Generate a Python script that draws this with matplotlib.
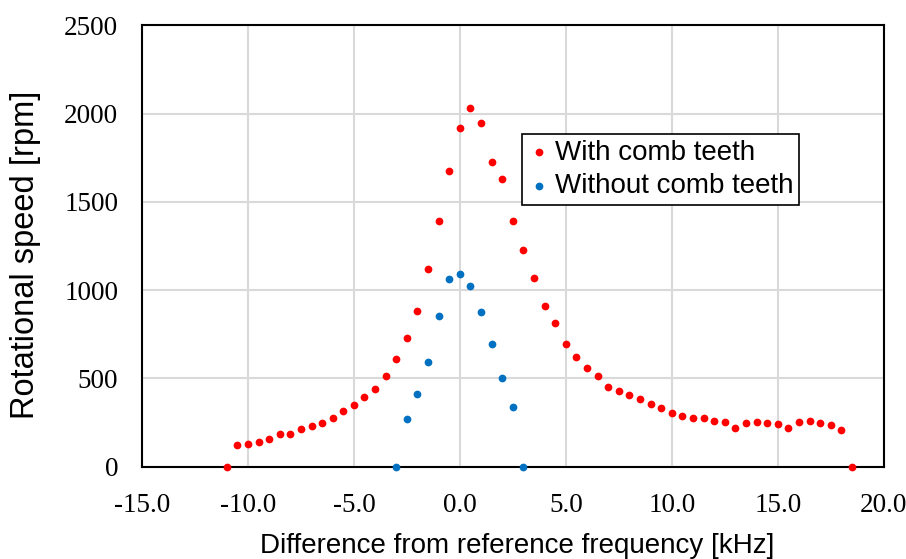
import numpy as np
import matplotlib.pyplot as plt

# with comb teeth
freq_with = [-11.0, -10.5, -10.0, -9.5, -9.0, -8.5, -8.0, -7.5, -7.0, -6.5, -6.0, -5.5,
             -5.0, -4.5, -4.0, -3.5, -3.0, -2.5, -2.0, -1.5, -1.0, -0.5, 0.0, 0.5,
             1.0, 1.5, 2.0, 2.5, 3.0, 3.5, 4.0, 4.5, 5.0, 5.5, 6.0, 6.5,
             7.0, 7.5, 8.0, 8.5, 9.0, 9.5, 10.0, 10.5, 11.0, 11.5, 12.0, 12.5,
             13.0, 13.5, 14.0, 14.5, 15.0, 15.5, 16.0, 16.5, 17.0, 17.5, 18.0, 18.5]
rpm_with = [0, 121, 127, 142, 159, 185, 185, 211, 232, 245, 276, 313,
            349, 393, 440, 512, 610, 727, 880, 1122, 1390, 1673, 1921, 2034,
            1949, 1728, 1630, 1390, 1228, 1067, 912, 814, 693, 621, 559, 514,
            451, 427, 404, 381, 355, 332, 304, 285, 276, 274, 261, 255,
            217, 248, 253, 246, 240, 221, 255, 261, 249, 236, 210, 0]

# without comb teeth
freq_without = [-3.0, -2.5, -2.0, -1.5, -1.0, -0.5, 0.0, 0.5, 1.0, 1.5, 2.0, 2.5, 3.0]
rpm_without = [0, 268, 414, 593, 856, 1061, 1090, 1024, 874, 693, 500, 340, 0]

xticks = np.arange(-15, 20.1, 5)
yticks = np.arange(0, 2501, 500)

fig = plt.figure(figsize=(9.06, 5.59), dpi=100)
ax = fig.add_axes([0.1567, 0.1651, 0.8187, 0.7893])

ax.scatter(freq_with, rpm_with, s=31, c='#FF0000', label='With comb teeth',
           clip_on=False, zorder=3, linewidths=0)
ax.scatter(freq_without, rpm_without, s=31, c='#0070C0', label='Without comb teeth',
           clip_on=False, zorder=3, linewidths=0)

ax.set_xlim(-15, 20); ax.set_ylim(0, 2500)
ax.set_xticks(xticks)
ax.set_xticklabels([f'{v:.1f}' for v in xticks])
ax.set_yticks(yticks)
ax.set_yticklabels([f'{int(v)}' for v in yticks])
for lbl in ax.get_xticklabels() + ax.get_yticklabels():
    lbl.set_fontfamily('Liberation Serif'); lbl.set_fontsize(19.5)
ax.tick_params(axis='x', length=0, pad=19)
ax.tick_params(axis='y', length=0, pad=17)

ax.grid(True, color='#D9D9D9', lw=1.5, zorder=0)
ax.set_axisbelow(True)
for s in ax.spines.values():
    s.set_linewidth(1.5); s.set_color('black')

ax.set_xlabel('Difference from reference frequency [kHz]', family='Liberation Sans', fontsize=20)
ax.set_ylabel('Rotational speed [rpm]', family='Liberation Sans', fontsize=23.5)
ax.xaxis.set_label_coords(0.506, -0.150)
ax.yaxis.set_label_coords(-0.136, 0.48)

leg = ax.legend(loc='upper left', bbox_to_anchor=(0.512, 0.754),
                prop={'family': 'Liberation Sans', 'size': 20},
                frameon=True, fancybox=False, edgecolor='black', handletextpad=0.15,
                borderpad=0.2, labelspacing=0.27, handlelength=0.85, borderaxespad=0,
                framealpha=1)
leg.get_frame().set_linewidth(1.2)

fig.savefig('out.png', dpi=100)
